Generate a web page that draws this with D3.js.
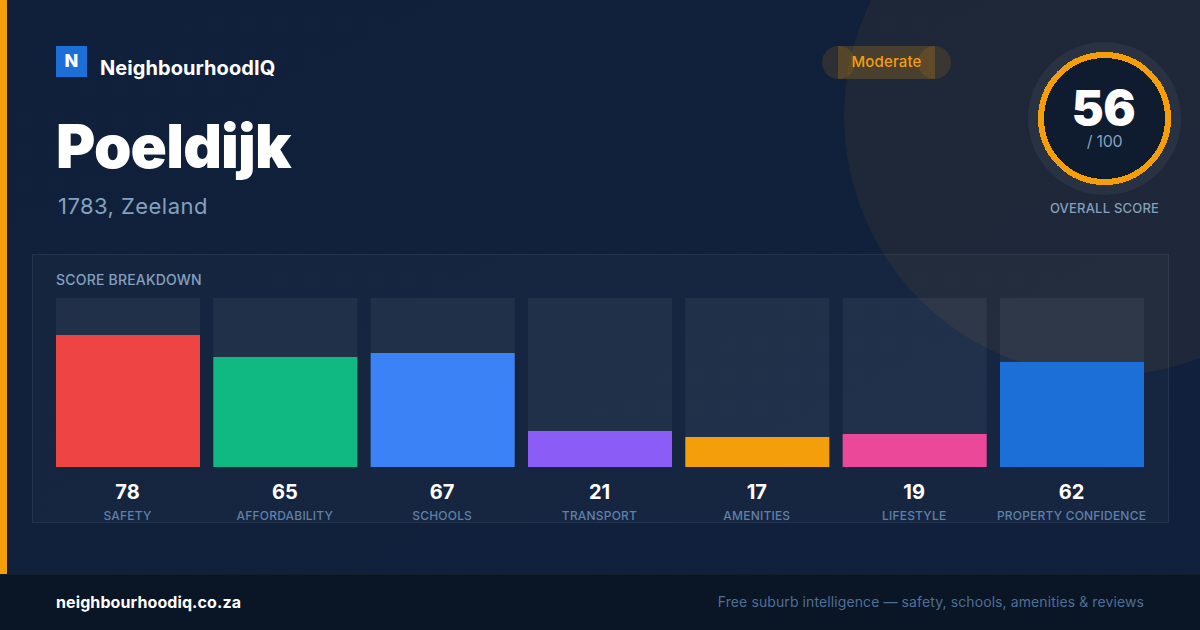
<!DOCTYPE html>
<html><head><meta charset="utf-8">
<script src="https://cdn.jsdelivr.net/npm/d3@7"></script>
<style>html,body{margin:0;padding:0;background:#0f1f3a}svg{display:block}text{font-family:Inter,sans-serif}</style>
</head><body><svg id="c" width="1200" height="630"></svg>
<script>
const categories=["SAFETY","AFFORDABILITY","SCHOOLS","TRANSPORT","AMENITIES","LIFESTYLE","PROPERTY CONFIDENCE"];
const scores=[78,65,67,21,17,19,62];
const barColors=["#ef4444","#10b981","#3b82f6","#8b5cf6","#f59e0b","#ec4899","#1d6fd8"];
const overall=56;
const svg=d3.select("#c");
const defs=svg.append("defs");
const g=defs.append("linearGradient").attr("id","bg").attr("x1",0).attr("y1",0).attr("x2",1).attr("y2",1);
g.append("stop").attr("offset",0).attr("stop-color","#10203a");
g.append("stop").attr("offset",1).attr("stop-color","#11213d");
const p=defs.append("pattern").attr("id","dots").attr("width",32).attr("height",32).attr("patternUnits","userSpaceOnUse");
p.append("circle").attr("cx",24).attr("cy",24).attr("r",1).attr("fill","#fff").attr("fill-opacity",.03);
svg.append("rect").attr("width",1200).attr("height",630).attr("fill","url(#bg)");
svg.append("rect").attr("width",1200).attr("height",630).attr("fill","url(#dots)");
svg.append("circle").attr("cx",1104).attr("cy",116).attr("r",260).attr("fill","#f59e0b").attr("fill-opacity",.06);
svg.append("rect").attr("width",7).attr("height",574).attr("fill","#f59e0b");
// brand
svg.append("rect").attr("x",56).attr("y",46).attr("width",31).attr("height",31).attr("fill","#1d6fd8");
svg.append("text").attr("x",71.5).attr("y",67).attr("text-anchor","middle").attr("font-size",18).attr("font-weight",800).attr("fill","#fff").text("N");
svg.append("text").attr("x",100).attr("y",75).attr("font-size",20).attr("font-weight",700).attr("letter-spacing",.07).attr("fill","#fff").text("NeighbourhoodIQ");
svg.append("text").attr("x",56).attr("y",168).attr("font-size",60).attr("font-weight",900).attr("letter-spacing",-.8).attr("fill","#fff").text("Poeldijk");
svg.append("text").attr("x",58).attr("y",214).attr("font-size",22).attr("font-weight",400).attr("letter-spacing",.45).attr("fill","#84a0bd").text("1783, Zeeland");
// badge
const am="#f59e0b";
svg.append("circle").attr("cx",838.5).attr("cy",62.5).attr("r",16.5).attr("fill",am).attr("fill-opacity",.13);
svg.append("circle").attr("cx",934.5).attr("cy",62.5).attr("r",16.5).attr("fill",am).attr("fill-opacity",.13);
svg.append("rect").attr("x",838).attr("y",46).attr("width",97).attr("height",33).attr("fill",am).attr("fill-opacity",.2);
svg.append("text").attr("x",886.5).attr("y",67).attr("text-anchor","middle").attr("font-size",15).attr("font-weight",500).attr("letter-spacing",.15).attr("fill",am).text("Moderate");
// ring
svg.append("circle").attr("cx",1104.5).attr("cy",118.5).attr("r",76.5).attr("fill","#fff").attr("fill-opacity",.05);
svg.append("circle").attr("cx",1104.5).attr("cy",118.5).attr("r",63.5).attr("fill","#0f1b2f").attr("stroke",am).attr("stroke-width",6).attr("shape-rendering","crispEdges");
svg.append("text").attr("x",1103.5).attr("y",125).attr("text-anchor","middle").attr("font-size",48).attr("font-weight",900).attr("letter-spacing",-.5).attr("fill","#fff").text(overall);
svg.append("text").attr("x",1104.5).attr("y",147).attr("text-anchor","middle").attr("font-size",16).attr("letter-spacing",-.3).attr("fill","#84a0bd").text("/ 100");
svg.append("text").attr("x",1104.5).attr("y",213).attr("text-anchor","middle").attr("font-size",13).attr("font-weight",500).attr("letter-spacing",.2).attr("fill","#84a0bd").text("OVERALL SCORE");
// panel
svg.append("rect").attr("x",32.5).attr("y",254.5).attr("width",1136).attr("height",268).attr("fill","#fff").attr("fill-opacity",.025).attr("stroke","#fff").attr("stroke-opacity",.08);
svg.append("text").attr("x",56).attr("y",285).attr("font-size",14).attr("font-weight",500).attr("letter-spacing",.2).attr("fill","#84a0bd").text("SCORE BREAKDOWN");
const x=d3.scaleBand().domain(categories).range([56,1144]).paddingInner(13.33/157.33);
const y=d3.scaleLinear().domain([0,100]).range([465.9,297.9]);
const base=467;
const cols=svg.append("g").selectAll("g").data(categories).join("g");
cols.append("rect").attr("x",d=>x(d)).attr("y",Math.round(y(100))).attr("width",x.bandwidth()).attr("height",base-Math.round(y(100))).attr("fill","#fff").attr("fill-opacity",.055);
cols.append("rect").attr("x",d=>x(d)).attr("y",(d,i)=>Math.round(y(scores[i]))).attr("width",x.bandwidth()).attr("height",(d,i)=>base-Math.round(y(scores[i]))).attr("fill",(d,i)=>barColors[i]);
cols.append("text").attr("x",d=>x(d)+x.bandwidth()/2-.5).attr("y",499).attr("text-anchor","middle").attr("font-size",20).attr("font-weight",700).attr("fill","#fff").text((d,i)=>scores[i]);
cols.append("text").attr("x",d=>x(d)+x.bandwidth()/2-.5).attr("y",520).attr("text-anchor","middle").attr("font-size",12).attr("font-weight",500).attr("letter-spacing",.2).attr("fill","#5f80a8").text(d=>d);
// footer
svg.append("rect").attr("y",574).attr("width",1200).attr("height",56).attr("fill","#0a1525");
svg.append("rect").attr("y",574).attr("width",1200).attr("height",1).attr("fill","#fff").attr("fill-opacity",.04);
svg.append("text").attr("x",56).attr("y",608).attr("font-size",16).attr("font-weight",700).attr("letter-spacing",.1).attr("fill","#fff").text("neighbourhoodiq.co.za");
svg.append("text").attr("x",1144).attr("y",607).attr("text-anchor","end").attr("font-size",14).attr("letter-spacing",.1).attr("fill","#4f6f96").text("Free suburb intelligence — safety, schools, amenities & reviews");
</script></body></html>
